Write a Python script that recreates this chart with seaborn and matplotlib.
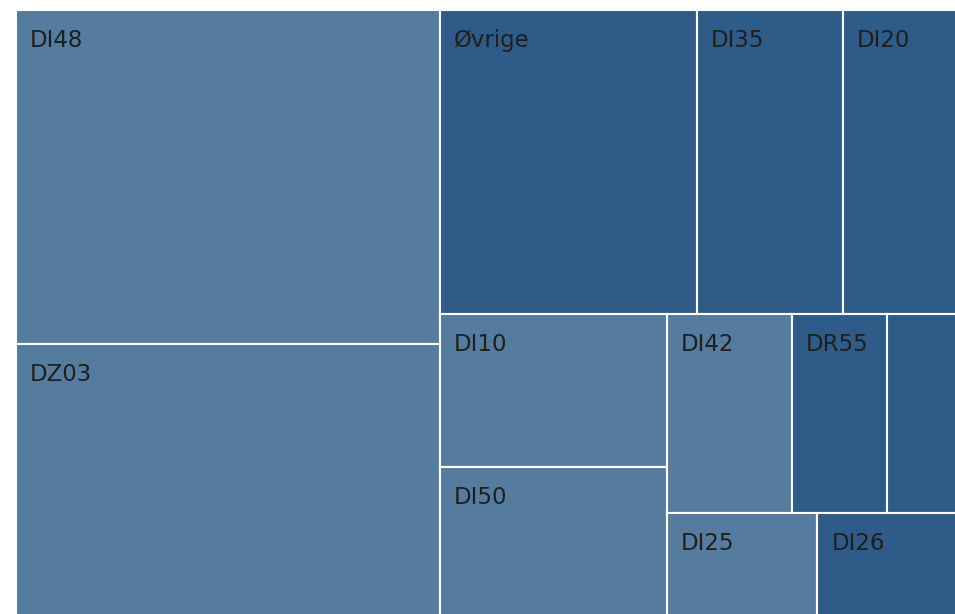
import matplotlib
matplotlib.use("Agg")
import matplotlib.pyplot as plt
import pandas as pd
import seaborn as sns

# treemap cells, in the order the layout consumes them
labels = ["DI48", "DZ03", "Øvrige", "DI35", "DI20", "DI10", "DI50",
          "DI42", "DR55", "", "DI25", "DI26"]
values = [1416, 1153, 781, 444, 365, 347, 338, 249, 189, 151, 155, 150]
groups = ["light", "light", "dark", "dark", "dark", "light", "light",
          "light", "dark", "dark", "light", "dark"]

PHI = (1 + 5 ** 0.5) / 2


def squarify(vals, x0, y0, x1, y1, ratio=PHI):
    # d3-style squarified treemap -> list of (x, y, w, h)
    rects = []
    total = float(sum(vals))
    i0, n = 0, len(vals)
    while i0 < n:
        dx, dy = x1 - x0, y1 - y0
        s = vals[i0]
        vmin = vmax = s
        i1 = i0 + 1
        alpha = max(dy / dx, dx / dy) / (total * ratio)
        beta = s * s * alpha
        best = max(vmax / beta, beta / vmin)
        while i1 < n:
            v = vals[i1]
            s2 = s + v
            mn, mx = min(vmin, v), max(vmax, v)
            beta = s2 * s2 * alpha
            r = max(mx / beta, beta / mn)
            if r > best:
                break
            s, vmin, vmax, best = s2, mn, mx, r
            i1 += 1
        row = vals[i0:i1]
        if dx < dy:
            # row along the top
            h = dy * s / total if i1 < n else dy
            x = x0
            for v in row:
                w = dx * v / s
                rects.append((x, y0, w, h))
                x += w
            y0 += h
        else:
            # column on the left
            w = dx * s / total if i1 < n else dx
            y = y0
            for v in row:
                h = dy * v / s
                rects.append((x0, y, w, h))
                y += h
            x0 += w
        total -= s
        i0 = i1
    return rects


sns.set_theme(style="white")
palette = {"light": "#557b9f", "dark": "#2e5b87"}

df = pd.DataFrame(squarify(values, 16, 10, 963, 616), columns=["x", "y", "w", "h"])
df["label"] = labels
df["group"] = groups

fig = plt.figure(figsize=(9.55, 6.14), dpi=100)
ax = fig.add_axes([0, 0, 1, 1])
ax.bar(df["x"], df["h"], width=df["w"], bottom=df["y"], align="edge",
       color=df["group"].map(palette), edgecolor="white", linewidth=1.5)
ax.set_xlim(0, 955)
ax.set_ylim(614, 0)
ax.axis("off")

for _, r in df.iterrows():
    if r["label"] and r["w"] > 85:
        ax.text(r["x"] + 14, r["y"] + 37, r["label"], fontsize=16.5,
                color="#1f1f1f", va="baseline", ha="left")

fig.savefig("out.png", dpi=100)
